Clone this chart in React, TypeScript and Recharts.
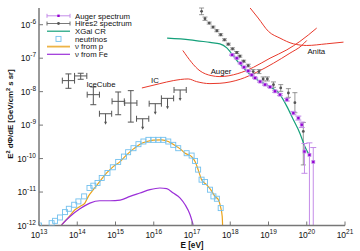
import React from 'react';
import { ComposedChart, Line, Scatter, XAxis, YAxis, ErrorBar } from 'recharts';

const xTicks = [13, 14, 15, 16, 17, 18, 19, 20, 21];
const yTicks = [-12, -11, -10, -9, -8, -7, -6];

// all values are log10(E/eV), log10(E^2 dPhi/dE)
const neutrinos = [
  { x: 13.0, y: -12.0 }, { x: 13.33, y: -11.93 }, { x: 13.42, y: -11.86 }, { x: 13.55, y: -11.76 },
  { x: 13.68, y: -11.6 }, { x: 13.78, y: -11.5 }, { x: 13.92, y: -11.38 }, { x: 14.03, y: -11.28 },
  { x: 14.18, y: -11.13 }, { x: 14.32, y: -10.88 }, { x: 14.42, y: -10.81 }, { x: 14.53, y: -10.73 },
  { x: 14.64, y: -10.58 }, { x: 14.79, y: -10.43 }, { x: 14.93, y: -10.26 }, { x: 15.07, y: -10.1 },
  { x: 15.22, y: -9.94 }, { x: 15.33, y: -9.81 }, { x: 15.47, y: -9.69 }, { x: 15.6, y: -9.57 },
  { x: 15.73, y: -9.49 }, { x: 15.86, y: -9.44 }, { x: 15.99, y: -9.44 }, { x: 16.12, y: -9.44 },
  { x: 16.25, y: -9.44 }, { x: 16.38, y: -9.49 }, { x: 16.51, y: -9.59 }, { x: 16.64, y: -9.69 },
  { x: 16.86, y: -9.84 }, { x: 16.99, y: -9.91 }, { x: 17.08, y: -10.07 }, { x: 17.16, y: -10.33 },
  { x: 17.25, y: -10.63 }, { x: 17.34, y: -10.7 }, { x: 17.47, y: -10.93 }, { x: 17.56, y: -11.13 },
  { x: 17.65, y: -11.2 }, { x: 17.75, y: -11.48 },
];

const nuFromP = [
  { x: 13.59, y: -11.98 }, { x: 13.77, y: -11.76 }, { x: 13.94, y: -11.53 }, { x: 14.07, y: -11.43 },
  { x: 14.2, y: -11.33 }, { x: 14.29, y: -11.13 }, { x: 14.42, y: -10.93 }, { x: 14.59, y: -10.68 },
  { x: 14.77, y: -10.43 }, { x: 14.94, y: -10.24 }, { x: 15.12, y: -10.09 }, { x: 15.29, y: -9.89 },
  { x: 15.47, y: -9.71 }, { x: 15.64, y: -9.57 }, { x: 15.82, y: -9.49 }, { x: 15.99, y: -9.45 },
  { x: 16.21, y: -9.44 }, { x: 16.38, y: -9.49 }, { x: 16.56, y: -9.61 }, { x: 16.69, y: -9.71 },
  { x: 16.82, y: -9.84 }, { x: 16.99, y: -9.94 }, { x: 17.08, y: -10.09 }, { x: 17.16, y: -10.33 },
  { x: 17.25, y: -10.63 }, { x: 17.38, y: -10.78 }, { x: 17.52, y: -10.98 }, { x: 17.6, y: -11.13 },
  { x: 17.69, y: -11.23 }, { x: 17.75, y: -11.46 }, { x: 17.79, y: -11.73 }, { x: 17.8, y: -12.0 },
];

const nuFromFe = [
  { x: 13.59, y: -11.98 }, { x: 13.81, y: -11.73 }, { x: 14.07, y: -11.5 }, { x: 14.33, y: -11.33 },
  { x: 14.59, y: -11.26 }, { x: 14.86, y: -11.26 }, { x: 15.12, y: -11.24 }, { x: 15.38, y: -11.13 },
  { x: 15.64, y: -11.03 }, { x: 15.9, y: -10.93 }, { x: 16.16, y: -10.88 }, { x: 16.34, y: -10.9 },
  { x: 16.51, y: -11.03 }, { x: 16.69, y: -11.18 }, { x: 16.82, y: -11.38 }, { x: 16.95, y: -11.68 },
  { x: 17.03, y: -11.98 },
];

const xgalCR = [
  { x: 16.35, y: -6.4 }, { x: 16.95, y: -6.45 }, { x: 17.47, y: -6.53 }, { x: 17.73, y: -6.57 },
  { x: 17.91, y: -6.69 }, { x: 18.08, y: -6.93 }, { x: 18.21, y: -7.12 }, { x: 18.34, y: -7.28 },
  { x: 18.47, y: -7.44 }, { x: 18.69, y: -7.64 }, { x: 19.04, y: -7.85 }, { x: 19.3, y: -8.09 },
  { x: 19.48, y: -8.44 }, { x: 19.65, y: -8.84 }, { x: 19.82, y: -9.24 }, { x: 19.95, y: -9.64 },
  { x: 20.09, y: -9.94 },
];

const icLimit = [
  { x: 15.69, y: -7.89 }, { x: 16.16, y: -7.76 }, { x: 16.51, y: -7.67 }, { x: 16.9, y: -7.62 },
  { x: 17.12, y: -7.7 }, { x: 17.47, y: -7.76 }, { x: 17.73, y: -7.75 }, { x: 18.26, y: -7.63 },
  { x: 18.69, y: -7.42 }, { x: 19.13, y: -7.15 }, { x: 19.56, y: -6.85 }, { x: 19.87, y: -6.62 },
  { x: 20.0, y: -6.47 },
];

const augerLimit = [
  { x: 16.76, y: -6.77 }, { x: 17.21, y: -7.38 }, { x: 17.5, y: -7.52 }, { x: 17.73, y: -7.55 },
  { x: 18.2, y: -7.46 }, { x: 18.61, y: -7.27 }, { x: 19.04, y: -7.0 }, { x: 19.48, y: -6.75 },
  { x: 19.82, y: -6.5 }, { x: 20.26, y: -6.1 },
];

const anitaLimit = [
  { x: 18.52, y: -5.5 }, { x: 18.73, y: -5.8 }, { x: 19.0, y: -6.2 }, { x: 19.3, y: -6.4 },
  { x: 19.65, y: -6.57 }, { x: 20.0, y: -6.62 }, { x: 20.52, y: -6.57 }, { x: 20.96, y: -6.52 },
];

const hires = [
  { x: 17.25, y: -5.6, e: [0.1, 0.1] }, { x: 17.34, y: -5.82, e: [0.05, 0.05] },
  { x: 17.45, y: -5.95, e: [0.03, 0.03] }, { x: 17.55, y: -6.07, e: [0.03, 0.03] },
  { x: 17.65, y: -6.18, e: [0.03, 0.03] }, { x: 17.75, y: -6.3, e: [0.03, 0.03] },
  { x: 17.85, y: -6.45, e: [0.03, 0.03] }, { x: 17.95, y: -6.58, e: [0.03, 0.03] },
  { x: 18.06, y: -6.72, e: [0.03, 0.03] }, { x: 18.17, y: -6.83, e: [0.03, 0.03] },
  { x: 18.25, y: -6.94, e: [0.03, 0.03] }, { x: 18.35, y: -7.09, e: [0.03, 0.03] },
  { x: 18.47, y: -7.22, e: [0.04, 0.04] }, { x: 18.6, y: -7.4, e: [0.06, 0.06] },
  { x: 18.75, y: -7.4, e: [0.06, 0.06] }, { x: 18.86, y: -7.62, e: [0.06, 0.06] },
  { x: 18.97, y: -7.62, e: [0.06, 0.06] }, { x: 19.13, y: -7.79, e: [0.08, 0.08] },
  { x: 19.32, y: -7.89, e: [0.1, 0.1] }, { x: 19.52, y: -8.04, e: [0.13, 0.13] },
  { x: 19.69, y: -8.33, e: [0.3, 0.3] }, { x: 19.91, y: -9.19, e: [1.0, 0.27] },
];

const auger = [
  { x: 18.05, y: -6.9, e: [0.02, 0.02] }, { x: 18.17, y: -7.0, e: [0.02, 0.02] },
  { x: 18.27, y: -7.15, e: [0.02, 0.02] }, { x: 18.36, y: -7.27, e: [0.02, 0.02] },
  { x: 18.47, y: -7.38, e: [0.02, 0.02] }, { x: 18.56, y: -7.5, e: [0.02, 0.02] },
  { x: 18.65, y: -7.59, e: [0.02, 0.02] }, { x: 18.78, y: -7.7, e: [0.02, 0.02] },
  { x: 18.91, y: -7.79, e: [0.02, 0.02] }, { x: 19.04, y: -7.86, e: [0.02, 0.02] },
  { x: 19.17, y: -7.99, e: [0.03, 0.03] }, { x: 19.3, y: -8.09, e: [0.03, 0.03] },
  { x: 19.48, y: -8.24, e: [0.04, 0.04] }, { x: 19.65, y: -8.64, e: [0.05, 0.05] },
  { x: 19.78, y: -8.79, e: [0.06, 0.06] }, { x: 19.87, y: -8.99, e: [0.08, 0.08] },
  { x: 19.94, y: -9.79, e: [0.65, 0.24] }, { x: 20.07, y: -9.89, e: [2.11, 0.36] },
  { x: 20.17, y: -10.1, e: [1.9, 0.43] },
];

const iceCubePoints = [
  { x: 13.77, y: -7.67, ex: 0.16, ey: [0.23, 0.2] },
  { x: 14.09, y: -7.53, ex: 0.16, ey: [0.1, 0.08] },
  { x: 14.42, y: -8.09, ex: 0.16, ey: [0.3, 0.23] },
  { x: 15.07, y: -8.29, ex: 0.16, ey: [0.4, 0.28] },
  { x: 15.4, y: -8.34, ex: 0.16, ey: [0.57, 0.37] },
];

const iceCubeLimits = [
  { x: 14.74, y: -8.66, ex: 0.16 },
  { x: 15.71, y: -8.81, ex: 0.16 },
  { x: 16.04, y: -8.36, ex: 0.16 },
  { x: 16.36, y: -8.2, ex: 0.16 },
  { x: 16.69, y: -7.95, ex: 0.16 },
];

const annotations = [
  { x: 14.62, y: -7.79, text: 'IceCube' },
  { x: 16.03, y: -7.67, text: 'IC' },
  { x: 17.76, y: -7.41, text: 'Auger' },
  { x: 20.25, y: -6.81, text: 'Anita' },
];

const legendLabels = ['Auger spectrum', 'Hires2 spectrum', 'XGal CR', 'neutrinos', '\u03bd from p', '\u03bd from Fe'];

const FONT = '"Liberation Sans", Arial, Helvetica, sans-serif';
const AXIS = '#777777';
const RED = '#e8392b';
const TEAL = '#14a07a';
const BLUE = '#72c0ee';
const ORANGE = '#e9a21a';
const PURPLE = '#9b2fd8';
const AUGER_BAR = '#c48ce8';
const AUGER_PT = '#9400d3';
const GRAY = '#555555';
const HIRES_BAR = '#6a6a6a';

const XTick = (props: any) => {
  const { x, y, payload } = props;
  return (
    <text x={x} y={y + 12.5} textAnchor="middle" fontFamily={FONT} fontSize={8.5} fill="#111">
      10<tspan fontSize={6.5} dy={-4.5}>{String(payload.value)}</tspan>
    </text>
  );
};

const YTick = (props: any) => {
  const { x, y, payload } = props;
  return (
    <text x={x} y={y + 3.2} textAnchor="end" fontFamily={FONT} fontSize={8.5} fill="#111">
      10<tspan fontSize={6.5} dy={-4.2}>{String(payload.value)}</tspan>
    </text>
  );
};

const NoTick = () => <g />;

const squareShape = (p: any) => (
  <rect x={p.cx - 2.5} y={p.cy - 2.5} width={5} height={5} fill="none" stroke={BLUE} strokeWidth={0.9} />
);
const hiresShape = (p: any) => <circle cx={p.cx} cy={p.cy} r={1.4} fill={GRAY} />;
const augerShape = (p: any) => (
  <g>
    <rect x={p.cx - 1.9} y={p.cy - 1.9} width={3.8} height={3.8} fill={AUGER_BAR} />
    <rect x={p.cx - 1.1} y={p.cy - 1.1} width={2.2} height={2.2} fill={AUGER_PT} />
  </g>
);
const emptyShape = () => <g />;
const arrowShape = (p: any) => (
  <g>
    <line x1={p.cx} y1={p.cy} x2={p.cx} y2={p.cy + 9} stroke={GRAY} strokeWidth={1} />
    <path d={`M${p.cx - 1.5},${p.cy + 8} L${p.cx + 1.5},${p.cy + 8} L${p.cx},${p.cy + 11} Z`} fill={GRAY} />
  </g>
);
const textShape = (p: any) => (
  <text x={p.cx} y={p.cy} textAnchor="middle" dominantBaseline="central" fontFamily={FONT} fontSize={7.8} fill="#111">
    {p.payload && p.payload.text}
  </text>
);

const Legend = () => {
  const x0 = 47, x1 = 70, xm = 58.5, tx = 75;
  const ys = legendLabels.map((_, i) => 15.8 + i * 7.7);
  return (
    <svg width={360} height={251} style={{ position: 'absolute', left: 0, top: 0, pointerEvents: 'none' }}>
      <g>
        <line x1={x0} x2={x1} y1={ys[0]} y2={ys[0]} stroke={AUGER_BAR} strokeWidth={1} />
        <line x1={x0} x2={x0} y1={ys[0] - 2} y2={ys[0] + 2} stroke={AUGER_BAR} />
        <line x1={x1} x2={x1} y1={ys[0] - 2} y2={ys[0] + 2} stroke={AUGER_BAR} />
        <rect x={xm - 1.2} y={ys[0] - 1.2} width={2.4} height={2.4} fill={AUGER_PT} />
      </g>
      <g>
        <line x1={x0} x2={x1} y1={ys[1]} y2={ys[1]} stroke={HIRES_BAR} strokeWidth={0.9} />
        <line x1={x0} x2={x0} y1={ys[1] - 2} y2={ys[1] + 2} stroke={HIRES_BAR} />
        <line x1={x1} x2={x1} y1={ys[1] - 2} y2={ys[1] + 2} stroke={HIRES_BAR} />
        <circle cx={xm} cy={ys[1]} r={1.4} fill={GRAY} />
      </g>
      <line x1={x0} x2={x1} y1={ys[2]} y2={ys[2]} stroke={TEAL} strokeWidth={1.2} />
      <rect x={xm - 2.5} y={ys[3] - 2.5} width={5} height={5} fill="none" stroke={BLUE} strokeWidth={0.9} />
      <line x1={x0} x2={x1} y1={ys[4]} y2={ys[4]} stroke={ORANGE} strokeWidth={1.8} opacity={0.8} />
      <line x1={x0} x2={x1} y1={ys[5]} y2={ys[5]} stroke={PURPLE} strokeWidth={1.2} />
      {legendLabels.map((l, i) => (
        <text key={l} x={tx} y={ys[i] + 2.8} fontFamily={FONT} fontSize={7.8} fill="#111">{l}</text>
      ))}
      <text transform="translate(12.5,114) rotate(-90)" textAnchor="middle" fontFamily={FONT} fontSize={7.8} fontWeight="bold" fill="#111">
        E<tspan fontSize={5.6} dy={-3}>2</tspan><tspan dy={3}> d{'\u03a6'}/dE [GeV/cm</tspan><tspan fontSize={5.6} dy={-3}>2</tspan><tspan dy={3}> s sr]</tspan>
      </text>
      <text x={192} y={247.5} textAnchor="middle" fontFamily={FONT} fontSize={8.2} fontWeight="bold" fill="#111">E [eV]</text>
    </svg>
  );
};

export default function App() {
  const axisLine = { stroke: AXIS, strokeWidth: 1.5 };
  const tickLine = { stroke: AXIS, strokeWidth: 1 };
  return (
    <div style={{ position: 'absolute', left: 0, top: 0, width: 360, height: 251, background: '#fff' }}>
      <ComposedChart width={360} height={251} margin={{ top: 8, right: 15, bottom: 0, left: 0 }}>
        <XAxis type="number" dataKey="x" domain={[13, 21]} ticks={xTicks} allowDataOverflow interval={0}
          height={25.5} tickSize={-4} tickMargin={4} tick={<XTick />} axisLine={axisLine} tickLine={tickLine} />
        <XAxis xAxisId="top" orientation="top" type="number" dataKey="x" domain={[13, 21]} ticks={xTicks} allowDataOverflow interval={0}
          height={0} tickSize={-4} tick={<NoTick />} axisLine={axisLine} tickLine={tickLine} />
        <YAxis type="number" dataKey="y" domain={[-12, -5.5]} ticks={yTicks} allowDataOverflow interval={0}
          width={39} tickSize={-4} tickMargin={7} tick={<YTick />} axisLine={axisLine} tickLine={tickLine} />
        <YAxis yAxisId="right" orientation="right" type="number" dataKey="y" domain={[-12, -5.5]} ticks={yTicks} allowDataOverflow interval={0}
          width={0} tickSize={-4} tick={<NoTick />} axisLine={axisLine} tickLine={tickLine} />

        <Line data={icLimit} dataKey="y" type="monotone" stroke={RED} strokeWidth={1} dot={false} isAnimationActive={false} />
        <Line data={augerLimit} dataKey="y" type="monotone" stroke={RED} strokeWidth={1} dot={false} isAnimationActive={false} />
        <Line data={anitaLimit} dataKey="y" type="monotone" stroke={RED} strokeWidth={1} dot={false} isAnimationActive={false} />

        <Scatter data={neutrinos} shape={squareShape} isAnimationActive={false} />
        <Line data={nuFromP} dataKey="y" type="monotone" stroke={ORANGE} strokeWidth={1.2} dot={false} isAnimationActive={false} />
        <Line data={nuFromFe} dataKey="y" type="monotone" stroke={PURPLE} strokeWidth={1.2} dot={false} isAnimationActive={false} />

        <Scatter data={iceCubePoints} shape={emptyShape} isAnimationActive={false}>
          <ErrorBar dataKey="ex" direction="x" width={3} stroke={GRAY} strokeWidth={1} />
          <ErrorBar dataKey="ey" direction="y" width={3} stroke={GRAY} strokeWidth={1} />
        </Scatter>
        <Scatter data={iceCubeLimits} shape={arrowShape} isAnimationActive={false}>
          <ErrorBar dataKey="ex" direction="x" width={3} stroke={GRAY} strokeWidth={1} />
        </Scatter>

        <Scatter data={hires} shape={hiresShape} isAnimationActive={false}>
          <ErrorBar dataKey="e" direction="y" width={2.5} stroke={HIRES_BAR} strokeWidth={0.7} />
        </Scatter>
        <Line data={xgalCR} dataKey="y" type="monotone" stroke={TEAL} strokeWidth={1.2} dot={false} isAnimationActive={false} />
        <Scatter data={auger} shape={augerShape} isAnimationActive={false}>
          <ErrorBar dataKey="e" direction="y" width={3} stroke={AUGER_BAR} strokeWidth={1} />
        </Scatter>

        <Scatter data={annotations} shape={textShape} isAnimationActive={false} />
      </ComposedChart>
      <Legend />
    </div>
  );
}
